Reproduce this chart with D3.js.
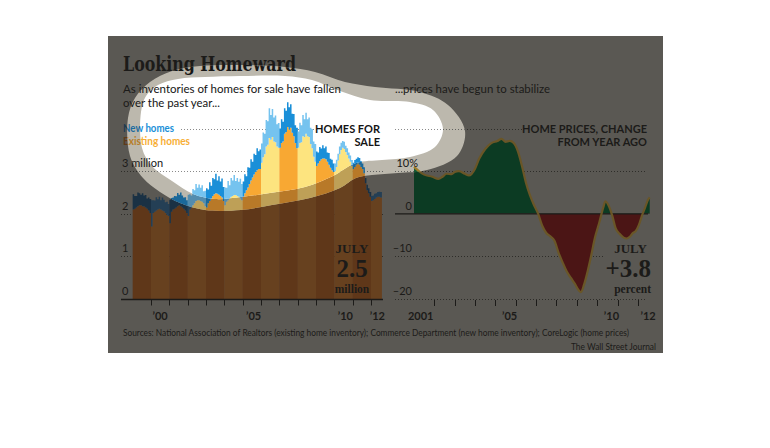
<!DOCTYPE html>
<html><head><meta charset="utf-8">
<script src="https://cdn.jsdelivr.net/npm/d3@7"></script>
<style>html,body{margin:0;padding:0;background:#fff;} svg{display:block}</style>
</head><body><svg id="chart" width="770" height="448"></svg>
<script>
// ---------------- DATA ----------------
// Homes for sale (millions), monthly, Jan 1999 – Jul 2012
const seriesStart = 1999;
const existingHomes = [
  2.10,2.12,2.15,2.18,2.20,2.20,2.18,2.17,2.15,2.12,2.08,2.02, // 1999
  1.70,2.02,2.05,2.08,2.10,2.12,2.10,2.08,2.06,2.02,1.98,1.95, // 2000
  1.78,2.05,2.10,2.12,2.15,2.18,2.20,2.18,2.15,2.12,2.08,2.02, // 2001
  1.95,2.10,2.15,2.20,2.25,2.30,2.32,2.32,2.30,2.28,2.25,2.18, // 2002
  2.15,2.25,2.30,2.36,2.42,2.46,2.48,2.47,2.45,2.42,2.38,2.30, // 2003
  2.20,2.28,2.32,2.36,2.40,2.42,2.44,2.44,2.42,2.40,2.36,2.32, // 2004
  2.40,2.48,2.55,2.62,2.70,2.78,2.85,2.92,2.98,3.02,3.05,3.05, // 2005
  3.20,3.33,3.40,3.58,3.62,3.78,3.74,3.80,3.70,3.68,3.58,3.55, // 2006
  3.55,3.66,3.70,3.88,3.92,4.04,3.98,4.02,3.90,3.82,3.66,3.54, // 2007
  3.55,3.66,3.68,3.82,3.80,3.88,3.82,3.80,3.64,3.54,3.34,3.22, // 2008
  3.12,3.18,3.24,3.28,3.30,3.30,3.28,3.22,3.15,3.08,3.02,2.98, // 2009
  3.00,3.10,3.25,3.40,3.50,3.55,3.52,3.45,3.38,3.30,3.22,3.12, // 2010
  3.05,3.10,3.15,3.18,3.15,3.10,3.05,2.95,2.72,2.55,2.48,2.40, // 2011
  2.30,2.32,2.35,2.38,2.40,2.40,2.38                          // 2012
];
const newHomes = [
  0.36,0.30,0.27,0.32,0.28,0.25,0.30,0.26,0.29,0.24,0.30,0.33, // 1999
  0.62,0.30,0.26,0.31,0.24,0.28,0.22,0.30,0.27,0.25,0.30,0.28, // 2000
  0.55,0.32,0.28,0.30,0.26,0.31,0.25,0.32,0.28,0.26,0.31,0.30, // 2001
  0.50,0.36,0.28,0.38,0.30,0.40,0.29,0.37,0.31,0.39,0.28,0.36, // 2002
  0.45,0.32,0.44,0.30,0.42,0.35,0.46,0.31,0.43,0.34,0.45,0.33, // 2003
  0.42,0.33,0.45,0.31,0.44,0.36,0.47,0.33,0.42,0.35,0.46,0.38, // 2004
  0.36,0.45,0.33,0.47,0.38,0.50,0.37,0.49,0.40,0.52,0.42,0.46, // 2005
  0.45,0.58,0.48,0.62,0.55,0.70,0.58,0.66,0.56,0.63,0.52,0.58, // 2006
  0.45,0.56,0.46,0.60,0.50,0.58,0.52,0.55,0.45,0.52,0.42,0.48, // 2007
  0.38,0.48,0.40,0.50,0.42,0.49,0.40,0.46,0.38,0.45,0.36,0.42, // 2008
  0.34,0.26,0.33,0.25,0.31,0.24,0.30,0.22,0.28,0.21,0.25,0.20, // 2009
  0.18,0.17,0.16,0.18,0.17,0.16,0.17,0.15,0.16,0.14,0.15,0.14, // 2010
  0.15,0.16,0.14,0.15,0.16,0.14,0.13,0.14,0.12,0.13,0.12,0.11, // 2011
  0.12,0.11,0.12,0.10,0.11,0.12,0.13                          // 2012
];
// Home prices, % change from year ago (decimal year, value)
const priceYears = [2001.0,2001.3,2001.5,2001.9,2002.2,2002.4,2002.6,2002.85,2003.0,2003.2,2003.5,2003.7,
  2004.0,2004.2,2004.5,2004.8,2005.1,2005.3,2005.5,2005.7,2005.9,2006.1,2006.3,2006.5,2006.7,2006.9,
  2007.1,2007.3,2007.5,2007.7,2007.9,2008.1,2008.3,2008.5,2008.7,2008.9,2009.1,2009.2,2009.35,2009.5,
  2009.7,2009.9,2010.1,2010.3,2010.4,2010.6,2010.75,2010.9,2011.1,2011.3,2011.45,2011.6,2011.75,2011.9,
  2012.05,2012.2,2012.35,2012.5,2012.58];
const priceChange = [11.0,9.8,9.2,8.7,8.2,8.7,9.4,9.3,9.8,10.0,9.4,9.0,
  10.6,12.9,15.2,16.6,17.1,17.6,16.9,17.1,16.6,14.7,11.3,7.3,4.3,2.0,
  0.0,-2.8,-4.5,-5.3,-6.3,-9.1,-11.4,-13.5,-15.0,-16.4,-18.0,-18.4,-16.7,-14.1,
  -9.9,-5.4,-2.1,1.5,2.9,1.5,-0.6,-3.3,-4.7,-5.6,-5.8,-5.4,-4.5,-4.0,
  -2.6,-0.4,1.4,3.3,3.8];

const leftGridValues = [1, 2, 3, 4];
const leftAxisLabels = ["0", "1", "2", "3 million"];
const leftAxisValues = [0, 1, 2, 3];
const leftTickYears = d3.range(2000, 2013);
const leftTickLabels = ["\u201900", "\u201905", "\u201910", "\u201912"];
const leftTickLabelYears = [2000.5, 2005.6, 2010.6, 2012.35];

const rightGridValues = [20, 10, -10, -20];
const rightAxisLabels = ["10%", "0", "\u201310", "\u201320"];
const rightAxisValues = [10, 0, -10, -20];
const rightTickYears = d3.range(2002, 2013);
const rightTickLabels = ["2001", "\u201905", "\u201910", "\u201912"];
const rightTickLabelYears = [2001.33, 2005.7, 2010.7, 2012.5];

// --------------- SCALES ----------------
const xL = d3.scaleLinear().domain([2000, 2012]).range([151, 371]);
const yL = d3.scaleLinear().domain([0, 3]).range([299, 171.2]);
const xR = d3.scaleLinear().domain([2001, 2012]).range([414, 637.9]);
const yR = d3.scaleLinear().domain([-20, 10]).range([299, 171.2]);

// --------------- PALETTES --------------
const bright = {bg:"#ffffff", text:"#141414", grid:"#8a8a8a", axis:"#1e1e1e",
  orange:"#f8a833", yellow:"#fde47f", blueDark:"#1a8fd8", blueLight:"#75c3ef",
  green:"#1b6f42", red:"#8c1d1d", line:"#c79a2e", legBlue:"#1a8fd8", legOrange:"#f7ae35"};
const dark = {bg:"#5a5853", text:"#1c1b19", grid:"#2e2d29", axis:"#1c1b19",
  orange:"#5f3719", yellow:"#67411f", blueDark:"#1a3144", blueLight:"#243f55",
  green:"#0c3b23", red:"#4b1515", line:"#6a5627", legBlue:"#1d3a50", legOrange:"#5d3a1a"};
const halo = {};
Object.keys(bright).forEach(k => halo[k] = d3.interpolateRgb(bright[k], dark[k])(0.42));
halo.bg = "#bcb8ad";

// highlight shape (decoration)
const innerBlob = [[141,112],[146,96],[158,85],[178,79],[205,77],[240,76],[285,76],[312,80],[340,91],[370,100],
  [410,102],[433,110],[443,129],[435,147],[410,157],[382,160],[356,163],[333,176],[305,187],[270,193],
  [241,197],[215,199],[193,194],[172,181],[152,166],[142,148]];
const outerBlob = [[128,118],[135,98],[150,82],[172,71],[200,66],[240,65],[285,67],[315,72],[345,82],[375,87],
  [420,92],[448,105],[465,131],[457,156],[427,170],[398,173],[372,175],[356,178],[340,188],[310,198],
  [272,205],[241,210],[205,210],[180,203],[160,192],[143,178],[130,156]];

const svg = d3.select("#chart");
const defs = svg.append("defs");
const blobLine = d3.line().curve(d3.curveCatmullRomClosed.alpha(0.5));
defs.append("clipPath").attr("id","clipInner").append("path").attr("d", blobLine(innerBlob));
defs.append("clipPath").attr("id","clipOuter").append("path").attr("d", blobLine(outerBlob));
defs.append("clipPath").attr("id","clipChart").append("rect").attr("x",108).attr("y",36).attr("width",555).attr("height",317);
defs.append("clipPath").attr("id","clipPos").append("rect").attr("x",390).attr("y",90).attr("width",280).attr("height",yR(0)-90);
defs.append("clipPath").attr("id","clipNeg").append("rect").attr("x",390).attr("y",yR(0)).attr("width",280).attr("height",320-yR(0));

const SANS = "Lato, 'Open Sans', sans-serif";
const SERIF = "'Liberation Serif', 'DejaVu Serif', serif";

function txt(g, x, y, s, o) {
  const t = g.append("text").attr("x", x).attr("y", y).text(s)
    .attr("font-family", o.family || SANS).attr("font-size", o.size || 11)
    .attr("font-weight", o.weight || "normal").attr("fill", o.fill)
    .attr("text-anchor", o.anchor || "start");
  if (o.len) t.attr("textLength", o.len).attr("lengthAdjust", "spacingAndGlyphs");
  return t;
}

function drawChart(g, P) {
  g.append("rect").attr("x",108).attr("y",36).attr("width",555).attr("height",317).attr("fill",P.bg);

  txt(g, 123, 71, "Looking Homeward", {family:"'DejaVu Serif', serif", size:20, weight:"bold", fill:P.text, len:173});
  txt(g, 123, 93, "As inventories of homes for sale have fallen", {size:12, fill:P.text, len:218});
  txt(g, 123, 107, "over the past year...", {size:12, fill:P.text, len:97});
  txt(g, 395, 93, "...prices have begun to stabilize", {size:12, fill:P.text, len:155});

  // ---- left panel ----
  leftGridValues.forEach(v => {
    const x0 = v === 4 ? 181 : 121, x1 = v === 4 ? 316 : 383;
    g.append("line").attr("x1",x0).attr("x2",x1).attr("y1",Math.round(yL(v))+0.5).attr("y2",Math.round(yL(v))+0.5)
      .attr("stroke",P.grid).attr("stroke-dasharray","1,2");
  });
  const months = existingHomes.map((e,i) => ({t: seriesStart + i/12, e, n: newHomes[i], yr: seriesStart + Math.floor(i/12)}));
  const areaE = d3.area().curve(d3.curveStepAfter).x(d => xL(d.t)).y0(yL(0)).y1(d => yL(d.e));
  const areaN = d3.area().curve(d3.curveStepAfter).x(d => xL(d.t)).y0(d => yL(d.e)).y1(d => yL(d.e + d.n));
  d3.groups(months, d => d.yr).forEach(([yr, arr]) => {
    const last = arr[arr.length-1];
    const pts = arr.concat([Object.assign({}, last, {t: last.t + 1/12 + 0.012})]);
    const odd = yr % 2 === 1;
    g.append("path").datum(pts).attr("d", areaE).attr("fill", odd ? P.orange : P.yellow);
    g.append("path").datum(pts).attr("d", areaN).attr("fill", odd ? P.blueDark : P.blueLight);
  });
  g.append("line").attr("x1",121).attr("x2",383).attr("y1",299.5).attr("y2",299.5).attr("stroke",P.axis).attr("stroke-width",1.6);
  leftTickYears.forEach(yv => g.append("line").attr("x1",Math.round(xL(yv))+0.5).attr("x2",Math.round(xL(yv))+0.5)
    .attr("y1",300).attr("y2",305.5).attr("stroke",P.axis).attr("stroke-width",1));
  leftTickLabels.forEach((s,i) => txt(g, xL(leftTickLabelYears[i]), 320, s, {size:11, weight:"bold", fill:P.text, anchor:"middle"}));
  leftAxisLabels.forEach((s,i) => txt(g, 122, yL(leftAxisValues[i]) - 4, s, {size:11, fill:P.text}));

  txt(g, 123, 132, "New homes", {size:11, weight:"bold", fill:P.legBlue, len:51});
  txt(g, 123, 145, "Existing homes", {size:11, weight:"bold", fill:P.legOrange, len:67});
  txt(g, 380, 132.5, "HOMES FOR", {size:11, weight:"bold", fill:P.text, anchor:"end"});
  txt(g, 380, 146, "SALE", {size:11, weight:"bold", fill:P.text, anchor:"end"});

  txt(g, 352, 252.5, "JULY", {family:SERIF, size:13, weight:"bold", fill:P.text, anchor:"middle"});
  txt(g, 352, 277, "2.5", {family:SERIF, size:25, weight:"bold", fill:P.text, anchor:"middle"});
  txt(g, 352, 292.5, "million", {family:SERIF, size:11.5, weight:"bold", fill:P.text, anchor:"middle"});

  // ---- right panel ----
  const gridSpan = {20:[395,522], 10:[395,647], "-10":[395,603], "-20":[395,647]};
  rightGridValues.forEach(v => {
    const s = gridSpan[v];
    g.append("line").attr("x1",s[0]).attr("x2",s[1]).attr("y1",Math.round(yR(v))+0.5).attr("y2",Math.round(yR(v))+0.5)
      .attr("stroke",P.grid).attr("stroke-dasharray","1,2");
  });
  const pts = priceYears.map((t,i) => ({t, v: priceChange[i]}));
  const areaR = d3.area().curve(d3.curveMonotoneX).x(d => xR(d.t)).y0(yR(0)).y1(d => yR(d.v));
  g.append("path").datum(pts).attr("d", areaR).attr("fill", P.green).attr("clip-path","url(#clipPos)");
  g.append("path").datum(pts).attr("d", areaR).attr("fill", P.red).attr("clip-path","url(#clipNeg)");
  g.append("line").attr("x1",395).attr("x2",648).attr("y1",yR(0)).attr("y2",yR(0)).attr("stroke",P.axis).attr("stroke-width",1.3);
  g.append("path").datum(pts).attr("d", d3.line().curve(d3.curveMonotoneX).x(d => xR(d.t)).y(d => yR(d.v)))
    .attr("fill","none").attr("stroke",P.line).attr("stroke-width",2.2).attr("stroke-linejoin","round");
  rightTickYears.forEach(yv => g.append("line").attr("x1",Math.round(xR(yv))+0.5).attr("x2",Math.round(xR(yv))+0.5)
    .attr("y1",300).attr("y2",306).attr("stroke",P.axis).attr("stroke-width",1));
  rightTickLabels.forEach((s,i) => txt(g, xR(rightTickLabelYears[i]), 320, s, {size:11, weight:"bold", fill:P.text, anchor:"middle"}));
  rightAxisLabels.forEach((s,i) => txt(g, i === 0 ? 418 : 412, yR(rightAxisValues[i]) - 4, s, {size:11, fill:P.text, anchor:"end"}));

  txt(g, 647, 133, "HOME PRICES, CHANGE", {size:11, weight:"bold", fill:P.text, anchor:"end"});
  txt(g, 647, 146, "FROM YEAR AGO", {size:11, weight:"bold", fill:P.text, anchor:"end"});
  txt(g, 647, 252.5, "JULY", {family:SERIF, size:13, weight:"bold", fill:P.text, anchor:"end"});
  txt(g, 651, 277, "+3.8", {family:SERIF, size:25, weight:"bold", fill:P.text, anchor:"end"});
  txt(g, 651, 292.5, "percent", {family:SERIF, size:11.5, weight:"bold", fill:P.text, anchor:"end"});

  txt(g, 123, 336, "Sources: National Association of Realtors (existing home inventory); Commerce Department (new home inventory); CoreLogic (home prices)",
    {size:10, fill:P.text, len:506});
  txt(g, 656, 350, "The Wall Street Journal", {size:10, fill:P.text, anchor:"end", len:85});
}

const root = svg.append("g").attr("clip-path","url(#clipChart)");
drawChart(root.append("g"), dark);
drawChart(root.append("g").attr("clip-path","url(#clipOuter)"), halo);
drawChart(root.append("g").attr("clip-path","url(#clipInner)"), bright);
</script></body></html>
